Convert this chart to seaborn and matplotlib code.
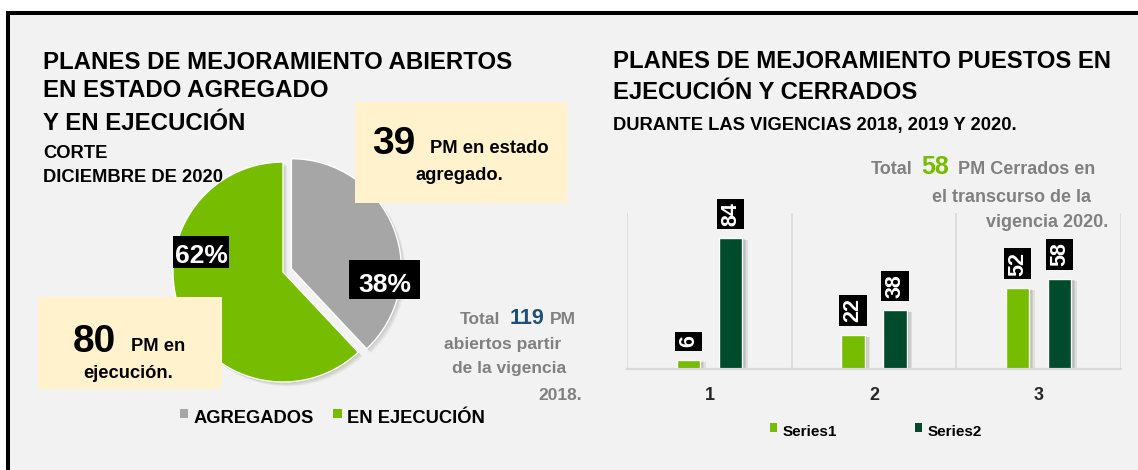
import numpy as np
import pandas as pd
import matplotlib
matplotlib.use('Agg')
import matplotlib.pyplot as plt
import matplotlib.patheffects as pe
from matplotlib.patches import Rectangle
import seaborn as sns

# Pie data (shares drawn) and counts shown in the note boxes.
pie_labels = ['AGREGADOS', 'EN EJECUCIÓN']
pie_share = [38, 62]
pm_counts = [39, 80]
total_open = 119

# Bar data.
vigencias = ['1', '2', '3']
series_names = ['Series1', 'Series2']
series1 = [6, 22, 52]
series2 = [84, 38, 58]
total_closed = 58

GRAY = '#a6a6a6'
GREEN = '#76bc00'
DARK = '#004b2c'
NOTE = '#fff2cc'
TXT_GRAY = '#808080'
BLUE = '#1f4e79'

sns.set_style('white')
plt.rcParams['font.family'] = ['Liberation Sans', 'DejaVu Sans']
plt.rcParams['font.weight'] = 'bold'

W, H = 1138, 470
fig = plt.figure(figsize=(W / 100, H / 100), dpi=100)
fig.patch.set_facecolor('white')


def fx(x):
    return x / W


def fy(y):
    return 1 - y / H


def box(x0, y0, x1, y1, color, z=1, **kw):
    fig.add_artist(Rectangle((fx(x0), fy(y1)), fx(x1) - fx(x0), fy(y0) - fy(y1),
                             transform=fig.transFigure, facecolor=color,
                             edgecolor='none', zorder=z, **kw))


def txt(x, y, s, size, color='black', ha='left', **kw):
    fig.text(fx(x), fy(y), s, fontsize=size, color=color, ha=ha,
             va='baseline', fontweight='bold', zorder=5, **kw)


def soft_shadow(steps, dx, dy, alpha):
    # a few stacked offset shadows give a soft edge like the office chart
    fx_list = [pe.SimplePatchShadow(offset=(dx * k / steps, dy * k / steps),
                                    alpha=alpha) for k in range(steps, 0, -1)]
    return fx_list + [pe.Normal()]


# Panel background with the black frame (top and left visible).
fig.add_artist(Rectangle((fx(8), -0.2), 1.2, fy(13) + 0.2, transform=fig.transFigure,
                         facecolor='#f2f2f2', edgecolor='black', linewidth=2.9,
                         zorder=-10))

# ---------------- Left: pie ----------------
cx, cy, R = 283, 272, 110
half = 150
ax_pie = fig.add_axes([fx(cx - half), fy(cy + half), (2 * half) / W, (2 * half) / H])
wedges, _ = ax_pie.pie(pie_share, colors=[GRAY, GREEN], startangle=90,
                       counterclock=False, explode=[0.082, 0], radius=1)
for w in wedges:
    w.set_path_effects(soft_shadow(4, 3, -3, 0.06))
lim = half / R
ax_pie.set_xlim(-lim, lim)
ax_pie.set_ylim(-lim, lim)
ax_pie.set_axis_off()

txt(43, 69.3, 'PLANES DE MEJORAMIENTO ABIERTOS', 17.3)
txt(43, 97.3, 'EN ESTADO AGREGADO', 17.3)
txt(43, 130, 'Y EN EJECUCIÓN', 17.3)
txt(43, 158.3, 'CORTE', 13.2)
txt(43, 181.7, 'DICIEMBRE DE 2020', 13.2)

# note boxes
box(355, 101.7, 567, 203.3, NOTE, z=2)
txt(372.3, 154.3, str(pm_counts[0]), 28)
txt(430, 153.3, 'PM en estado', 13.2)
txt(415, 180, 'agregado.', 13.2)

box(37.5, 296.7, 222, 389.3, NOTE, z=2)
txt(72.7, 351.7, str(pm_counts[1]), 28)
txt(131.3, 350.7, 'PM en', 13.2)
txt(83.4, 377.7, 'ejecución.', 13.2)

# percentage labels
box(173.4, 236, 228.5, 267.7, 'black', z=2)
txt(201, 263.3, f'{pie_share[1]}%', 19, color='white', ha='center')
box(349, 260, 419.8, 299.3, 'black', z=2)
txt(384.4, 291.7, f'{pie_share[0]}%', 19, color='white', ha='center')

# total note
txt(459.3, 324, 'Total', 12.5, color=TXT_GRAY)
txt(509.3, 324, str(total_open), 15.5, color=BLUE)
txt(550, 324, 'PM', 12.5, color=TXT_GRAY)
txt(444, 349.3, 'abiertos partir', 12.5, color=TXT_GRAY)
txt(452.3, 372.7, 'de la vigencia', 12.5, color=TXT_GRAY)
txt(538.3, 400, '2018.', 12.5, color=TXT_GRAY)

# legend
box(180, 409.3, 187.5, 418.3, GRAY)
txt(193.3, 422.7, pie_labels[0], 13.2)
box(333, 409.3, 341.8, 418.3, GREEN)
txt(347, 422.7, pie_labels[1], 13.2)

# ---------------- Right: bars ----------------
bx0, bx1, by0, by1 = 627.3, 1120.7, 369.3, 213.3
ax_bar = fig.add_axes([fx(bx0), fy(by0), (bx1 - bx0) / W, (by0 - by1) / H])
ax_bar.set_facecolor('none')

df = pd.DataFrame({'vigencia': vigencias, series_names[0]: series1, series_names[1]: series2})
df = df.melt(id_vars='vigencia', var_name='serie', value_name='valor')
sns.barplot(data=df, x='vigencia', y='valor', hue='serie', palette=[GREEN, DARK],
            width=0.51, gap=0.45, saturation=1, legend=False, ax=ax_bar)

for bar in ax_bar.patches:
    bar.set_path_effects(soft_shadow(4, 4, -1.5, 0.09))

for cont in ax_bar.containers:
    ax_bar.bar_label(cont, padding=9, rotation=90, color='white', fontsize=15.5,
                     fontweight='bold',
                     bbox=dict(facecolor='black', edgecolor='none', pad=2.4))

ax_bar.set_xlim(-0.5, 2.5)
ax_bar.set_ylim(0, 100)
for xv in [-0.5, 0.5, 1.5, 2.5]:
    ax_bar.axvline(xv, color='#d9d9d9', linewidth=1.2, zorder=0)
sns.despine(ax=ax_bar, left=True)
ax_bar.spines['bottom'].set_color('#d9d9d9')
ax_bar.spines['bottom'].set_linewidth(1.6)
ax_bar.set_yticks([])
ax_bar.set_xlabel('')
ax_bar.set_ylabel('')
ax_bar.tick_params(axis='x', length=0, pad=13, labelsize=13)
for lab in ax_bar.get_xticklabels():
    lab.set_fontweight('bold')

txt(613, 68.3, 'PLANES DE MEJORAMIENTO PUESTOS EN', 17.2)
txt(613, 99.3, 'EJECUCIÓN Y CERRADOS', 17.2)
txt(613, 130, 'DURANTE LAS VIGENCIAS 2018, 2019 Y 2020.', 13.2)

txt(870.4, 174, 'Total', 13, color=TXT_GRAY)
txt(921, 174, str(total_closed), 18, color=GREEN)
txt(957.6, 174, 'PM Cerrados en', 13, color=TXT_GRAY)
txt(932.2, 201.7, 'el transcurso de la', 13, color=TXT_GRAY)
txt(986, 227.3, 'vigencia 2020.', 13, color=TXT_GRAY)

box(770, 423.3, 777, 431.7, GREEN)
txt(782.6, 436, series_names[0], 11)
box(915, 423.3, 922, 431.7, DARK)
txt(927.7, 436, series_names[1], 11)

fig.savefig('out.png', dpi=100, facecolor=fig.get_facecolor())
